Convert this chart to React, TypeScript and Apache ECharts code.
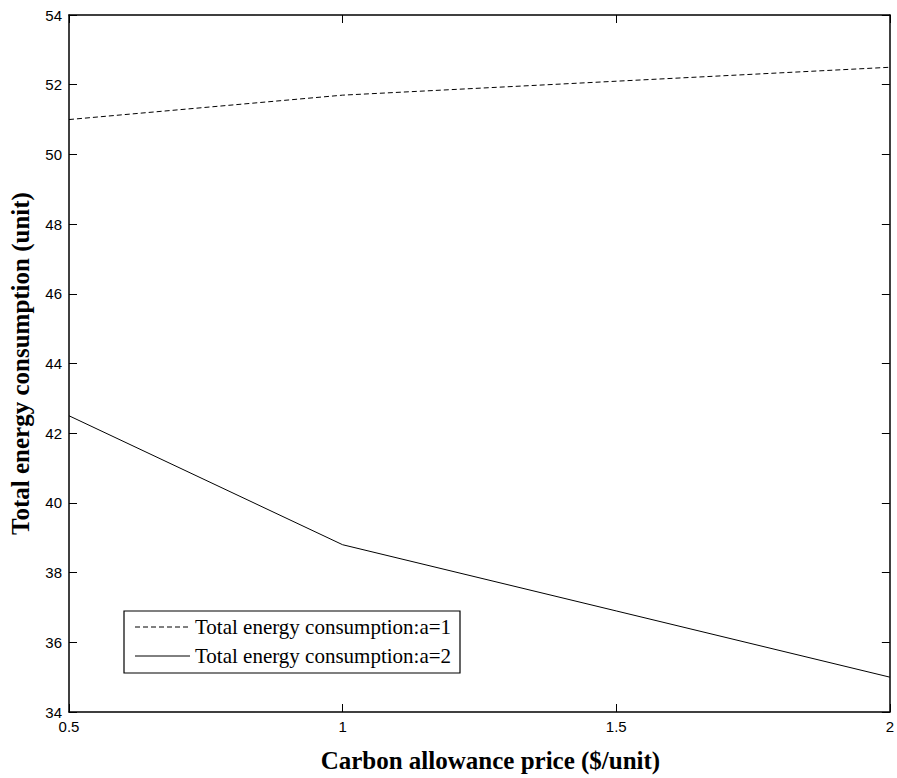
import React, { useEffect, useRef } from "react";
import * as echarts from "echarts";

const xValues = [0.5, 1, 1.5, 2];
const seriesA1 = [51.0, 51.7, 52.1, 52.5];
const seriesA2 = [42.5, 38.8, 36.9, 35.0];
const seriesNames = ["Total energy consumption:a=1", "Total energy consumption:a=2"];
const xTitle = "Carbon allowance price ($/unit)";
const yTitle = "Total energy consumption (unit)";

export default function App() {
  const ref = useRef<HTMLDivElement>(null);
  useEffect(() => {
    if (!ref.current) return;
    const chart = echarts.init(ref.current, null, { renderer: "svg" });
    const axisCommon = {
      axisLine: { show: true, onZero: false, lineStyle: { color: "#000", width: 1.5 } },
      axisTick: { show: true, inside: true, length: 8, lineStyle: { color: "#000", width: 1 } },
      splitLine: { show: false },
    };
    const legendFont = { fontFamily: "Liberation Serif", fontSize: 21, fill: "#000" };
    chart.setOption({
      animation: false,
      backgroundColor: "#fff",
      grid: { left: 69, right: 6, top: 15, bottom: 66, containLabel: false },
      graphic: [
        {
          type: "rect",
          shape: { x: 124, y: 611, width: 336, height: 62 },
          style: { fill: "#fff", stroke: "#000", lineWidth: 1.2 },
          z: 100,
        },
        {
          type: "line",
          shape: { x1: 135, y1: 627, x2: 190, y2: 627 },
          style: { stroke: "#000", lineWidth: 1, lineDash: [5, 3] },
          z: 101,
        },
        {
          type: "line",
          shape: { x1: 135, y1: 656, x2: 190, y2: 656 },
          style: { stroke: "#000", lineWidth: 1 },
          z: 101,
        },
        {
          type: "text",
          x: 195,
          y: 627,
          style: { ...legendFont, text: seriesNames[0], verticalAlign: "middle" },
          z: 101,
        },
        {
          type: "text",
          x: 195,
          y: 656,
          style: { ...legendFont, text: seriesNames[1], verticalAlign: "middle" },
          z: 101,
        },
      ],
      xAxis: [
        {
          type: "value",
          min: 0.5,
          max: 2,
          interval: 0.5,
          ...axisCommon,
          axisLabel: {
            color: "#000",
            fontFamily: "Liberation Sans",
            fontSize: 15,
            margin: 7,
            formatter: (v: number) => String(v),
          },
          name: xTitle,
          nameLocation: "middle",
          nameGap: 36,
          nameTextStyle: {
            fontFamily: "Liberation Serif",
            fontWeight: "bold",
            fontSize: 25,
            color: "#000",
            padding: [0, 0, 0, 22],
          },
        },
        {
          type: "value",
          position: "top",
          min: 0.5,
          max: 2,
          interval: 0.5,
          ...axisCommon,
          axisLabel: { show: false },
        },
      ],
      yAxis: [
        {
          type: "value",
          min: 34,
          max: 54,
          interval: 2,
          ...axisCommon,
          axisLabel: { color: "#000", fontFamily: "Liberation Sans", fontSize: 15, margin: 7 },
          name: yTitle,
          nameLocation: "middle",
          nameGap: 36,
          nameTextStyle: { fontFamily: "Liberation Serif", fontWeight: "bold", fontSize: 25, color: "#000" },
        },
        {
          type: "value",
          position: "right",
          min: 34,
          max: 54,
          interval: 2,
          ...axisCommon,
          axisLabel: { show: false },
        },
      ],
      series: [
        {
          name: seriesNames[0],
          type: "line",
          data: xValues.map((x, i) => [x, seriesA1[i]]),
          symbol: "none",
          lineStyle: { color: "#000", width: 1, type: [5, 3] },
        },
        {
          name: seriesNames[1],
          type: "line",
          data: xValues.map((x, i) => [x, seriesA2[i]]),
          symbol: "none",
          lineStyle: { color: "#000", width: 1, type: "solid" },
        },
      ],
    });
    return () => chart.dispose();
  }, []);
  return (
    <div
      ref={ref}
      style={{ position: "fixed", left: 0, top: 0, width: 897, height: 778 }}
    />
  );
}
